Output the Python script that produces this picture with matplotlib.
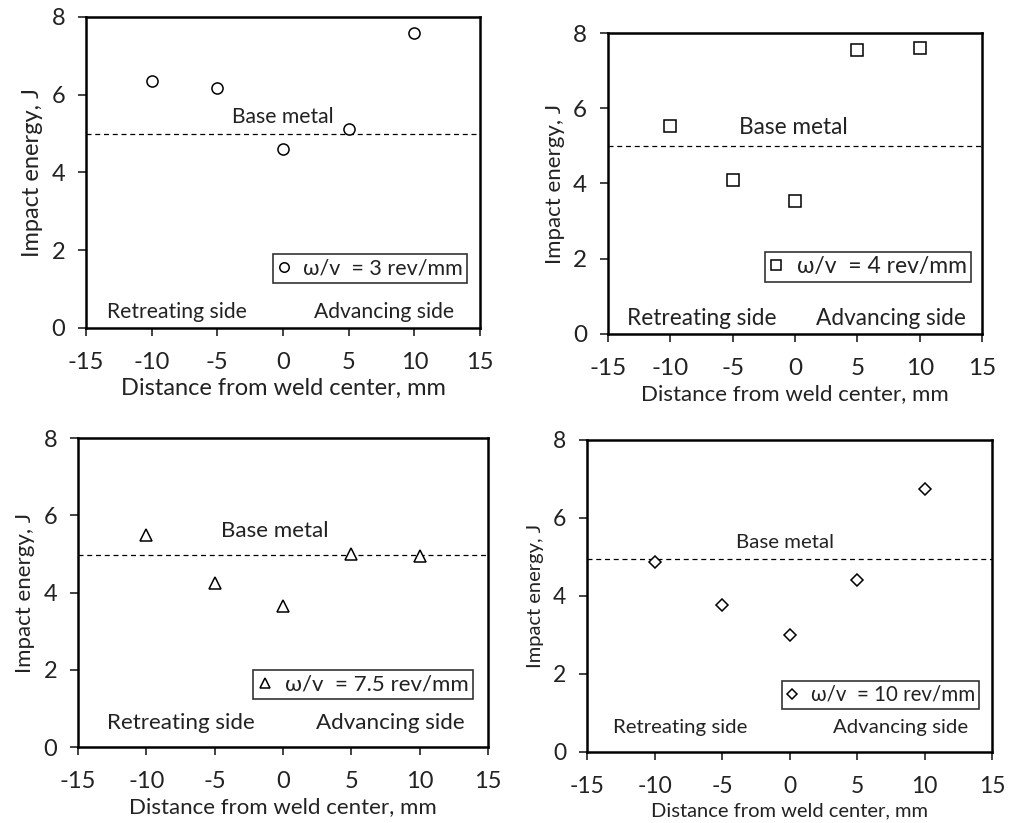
import numpy as np
import matplotlib
matplotlib.use("Agg")
import matplotlib.pyplot as plt

plt.rcParams['font.family'] = ['Lato', 'DejaVu Sans']
plt.rcParams['axes.unicode_minus'] = False

# ── Data ──────────────────────────────────────────────────────────────────────
DIST = [-10, -5, 0, 5, 10]
E_3   = [6.36, 6.17, 4.61, 5.12, 7.58]
E_4   = [5.54, 4.09, 3.53, 7.55, 7.60]
E_75  = [5.50, 4.25, 3.65, 5.00, 4.95]
E_10  = [4.86, 3.76, 2.99, 4.40, 6.74]
BASE  = [5.0, 5.0, 4.97, 4.95]
LABELS = ["ω/v  = 3 rev/mm", "ω/v  = 4 rev/mm", "ω/v  = 7.5 rev/mm", "ω/v  = 10 rev/mm"]
XTICKS = [-15, -10, -5, 0, 5, 10, 15]
YTICKS = [0, 2, 4, 6, 8]

# ── Panel layout / style ──────────────────────────────────────────────────────
# fs = axis labels, tfs = tick labels, afs = annotations, lfs = legend
PANELS = [
    dict(rect=[0.0852, 0.6015, 0.3905, 0.3779], m="o", ms=8,  leg=(0.967, 0.145),
         fs=17.0, tfs=17.0, afs=15.2, lfs=15.5,
         bm=(0.0, 5.43), rs=(-13.4, 0.42), ad=(13.0, 0.42)),
    dict(rect=[0.6026, 0.5942, 0.3707, 0.3657], m="s", ms=8,  leg=(0.971, 0.173),
         fs=16.0, tfs=17.5, afs=16.3, lfs=16.5,
         bm=(-0.1, 5.5), rs=(-13.5, 0.42), ad=(13.7, 0.42)),
    dict(rect=[0.0773, 0.0923, 0.4063, 0.3755], m="^", ms=9,  leg=(0.963, 0.155),
         fs=16.0, tfs=17.0, afs=16.1, lfs=16.0,
         bm=(-0.6, 5.58), rs=(-12.9, 0.62), ad=(13.3, 0.62)),
    dict(rect=[0.5818, 0.0863, 0.4014, 0.3791], m="D", ms=6.5, leg=(0.968, 0.138),
         fs=14.5, tfs=16.5, afs=14.7, lfs=14.8,
         bm=(-0.3, 5.36), rs=(-13.1, 0.64), ad=(13.2, 0.64)),
]
SERIES = [E_3, E_4, E_75, E_10]
INK = "#222222"

fig = plt.figure(figsize=(10.09, 8.23), dpi=100)

for p, ys, base, lab in zip(PANELS, SERIES, BASE, LABELS):
    ax = fig.add_axes(p["rect"])
    ax.plot(DIST, ys, ls="none", marker=p["m"], ms=p["ms"], mfc="white",
            mec="black", mew=1.1, label=lab, zorder=3)
    ax.axhline(base, color="black", lw=0.9, ls=(0, (4, 3)), zorder=2)
    ax.set_xlim(-15, 15)
    ax.set_ylim(0, 8)
    ax.set_xticks(XTICKS)
    ax.set_yticks(YTICKS)
    ax.tick_params(direction="out", length=6, width=1.2, labelsize=p["tfs"],
                   top=False, right=False, colors=INK)
    ax.tick_params(axis="x", pad=11)
    ax.tick_params(axis="y", pad=9)
    for sp in ax.spines.values():
        sp.set_linewidth(1.8)
    ax.set_xlabel("Distance from weld center, mm", fontsize=p["fs"], color=INK, labelpad=4)
    ax.set_ylabel("Impact energy, J", fontsize=p["fs"], color=INK, labelpad=6)

    afs = p["afs"]
    ax.text(p["bm"][0], p["bm"][1], "Base metal", ha="center", va="center", fontsize=afs, color=INK)
    ax.text(p["rs"][0], p["rs"][1], "Retreating side", ha="left", va="center", fontsize=afs, color=INK)
    ax.text(p["ad"][0], p["ad"][1], "Advancing side", ha="right", va="center", fontsize=afs, color=INK)

    leg = ax.legend(loc="lower right", bbox_to_anchor=p["leg"], fontsize=p["lfs"],
                    frameon=True, fancybox=False, edgecolor="black",
                    handlelength=0.6, handletextpad=0.6, borderpad=0.2,
                    borderaxespad=0.0, markerscale=0.85)
    leg.get_frame().set_linewidth(1.2)
    for t in leg.get_texts():
        t.set_color(INK)

fig.savefig("out.png", dpi=100)
